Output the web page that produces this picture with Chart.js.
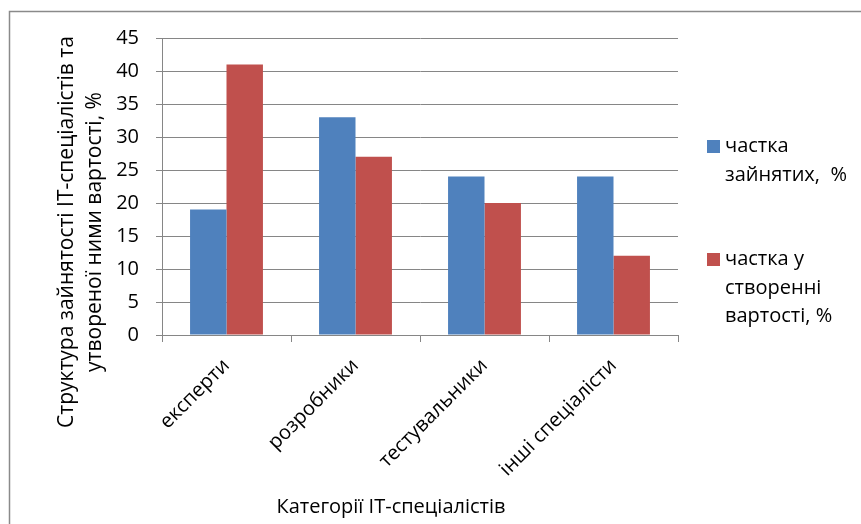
<!DOCTYPE html>
<html>
<head>
<meta charset="utf-8">
<script src="https://cdn.jsdelivr.net/npm/chart.js@4"></script>
<style>
  body { margin: 0; background: #fff; }
  #wrap { position: relative; width: 861px; height: 524px; }
  .leg { position: absolute; left: 707px; font-family: "Open Sans", sans-serif; font-size: 20px; line-height: 28.5px; color: #000; }
  .leg span.box { position: absolute; left: 0; top: 9px; width: 13px; height: 13px; }
  .leg div.txt { margin-left: 18px; white-space: pre; }
</style>
</head>
<body>
<div id="wrap">
  <canvas id="myChart" width="861" height="524"></canvas>
  <div class="leg" id="leg1" style="top:131px"><span class="box"></span><div class="txt"></div></div>
  <div class="leg" id="leg2" style="top:244px"><span class="box"></span><div class="txt"></div></div>
</div>
<script>
var categories = ["експерти", "розробники", "тестувальники", "інші спеціалісти"];
var seriesNames = [["частка", "зайнятих,  %"], ["частка у", "створенні", "вартості, %"]];
var employed = [19, 33, 24, 24];
var valueShare = [41, 27, 20, 12];
var yTicks = [0, 5, 10, 15, 20, 25, 30, 35, 40, 45];
var barColors = ["#4F81BD", "#C0504D"];
var gridColor = "#868686";
var fontName = "Open Sans";
var fontSize = 20;

// legend in html, built from the series arrays
var legIds = ["leg1", "leg2"];
for (i = 0; i < legIds.length; i++) {
    var el = document.getElementById(legIds[i]);
    el.querySelector('.box').style.backgroundColor = barColors[i];
    el.querySelector('.txt').innerHTML = seriesNames[i].join('<br>');
}

var frame = {
    id: 'frame',
    afterDraw: function (chart) {
        var ctx = chart.ctx;
        ctx.save();
        ctx.strokeStyle = "#8a8a8a";
        ctx.lineWidth = 1.5;
        ctx.strokeRect(9.5, 11.5, 900, 600);

        ctx.fillStyle = "#000";
        ctx.font = fontSize + "px '" + fontName + "'";
        ctx.textAlign = "center";
        ctx.textBaseline = "middle";
        ctx.fillText("Категорії IT-спеціалістів", 391, 507);

        // y axis title, two lines
        ctx.font = "21px '" + fontName + "'";
        ctx.translate(0, 232);
        ctx.rotate(-Math.PI / 2);
        ctx.fillText("Структура зайнятості ІТ-спеціалістів та", 0, 67);
        ctx.fillText("утвореної ними вартості, %", 0, 95);
        ctx.restore();
    }
};

new Chart("myChart", {
    type: "bar",
    data: {
        labels: categories,
        datasets: [{
            label: seriesNames[0].join(' '),
            backgroundColor: barColors[0],
            data: employed
        }, {
            label: seriesNames[1].join(' '),
            backgroundColor: barColors[1],
            data: valueShare
        }]
    },
    options: {
        responsive: false,
        animation: false,
        layout: { padding: { left: 0, top: 38, right: 183, bottom: 0 } },
        datasets: { bar: { categoryPercentage: 0.565, barPercentage: 1 } },
        plugins: {
            legend: { display: false },
            tooltip: { enabled: false }
        },
        scales: {
            x: {
                afterFit: function (scale) { scale.height = 189; },
                grid: { display: true, drawOnChartArea: false, color: gridColor, tickLength: 7 },
                border: { display: true, color: gridColor, width: 1 },
                ticks: {
                    color: "#000",
                    font: { family: fontName, size: fontSize },
                    minRotation: 45,
                    maxRotation: 45,
                    padding: 12
                }
            },
            y: {
                min: 0,
                max: 45,
                afterFit: function (scale) { scale.width = 162; },
                afterBuildTicks: function (scale) {
                    scale.ticks = yTicks.map(function (v) { return { value: v }; });
                },
                grid: { color: gridColor, tickLength: 6 },
                border: { display: true, color: gridColor, width: 1 },
                ticks: {
                    color: "#000",
                    font: { family: fontName, size: fontSize },
                    padding: 17
                }
            }
        }
    },
    plugins: [frame]
});
</script>
</body>
</html>
